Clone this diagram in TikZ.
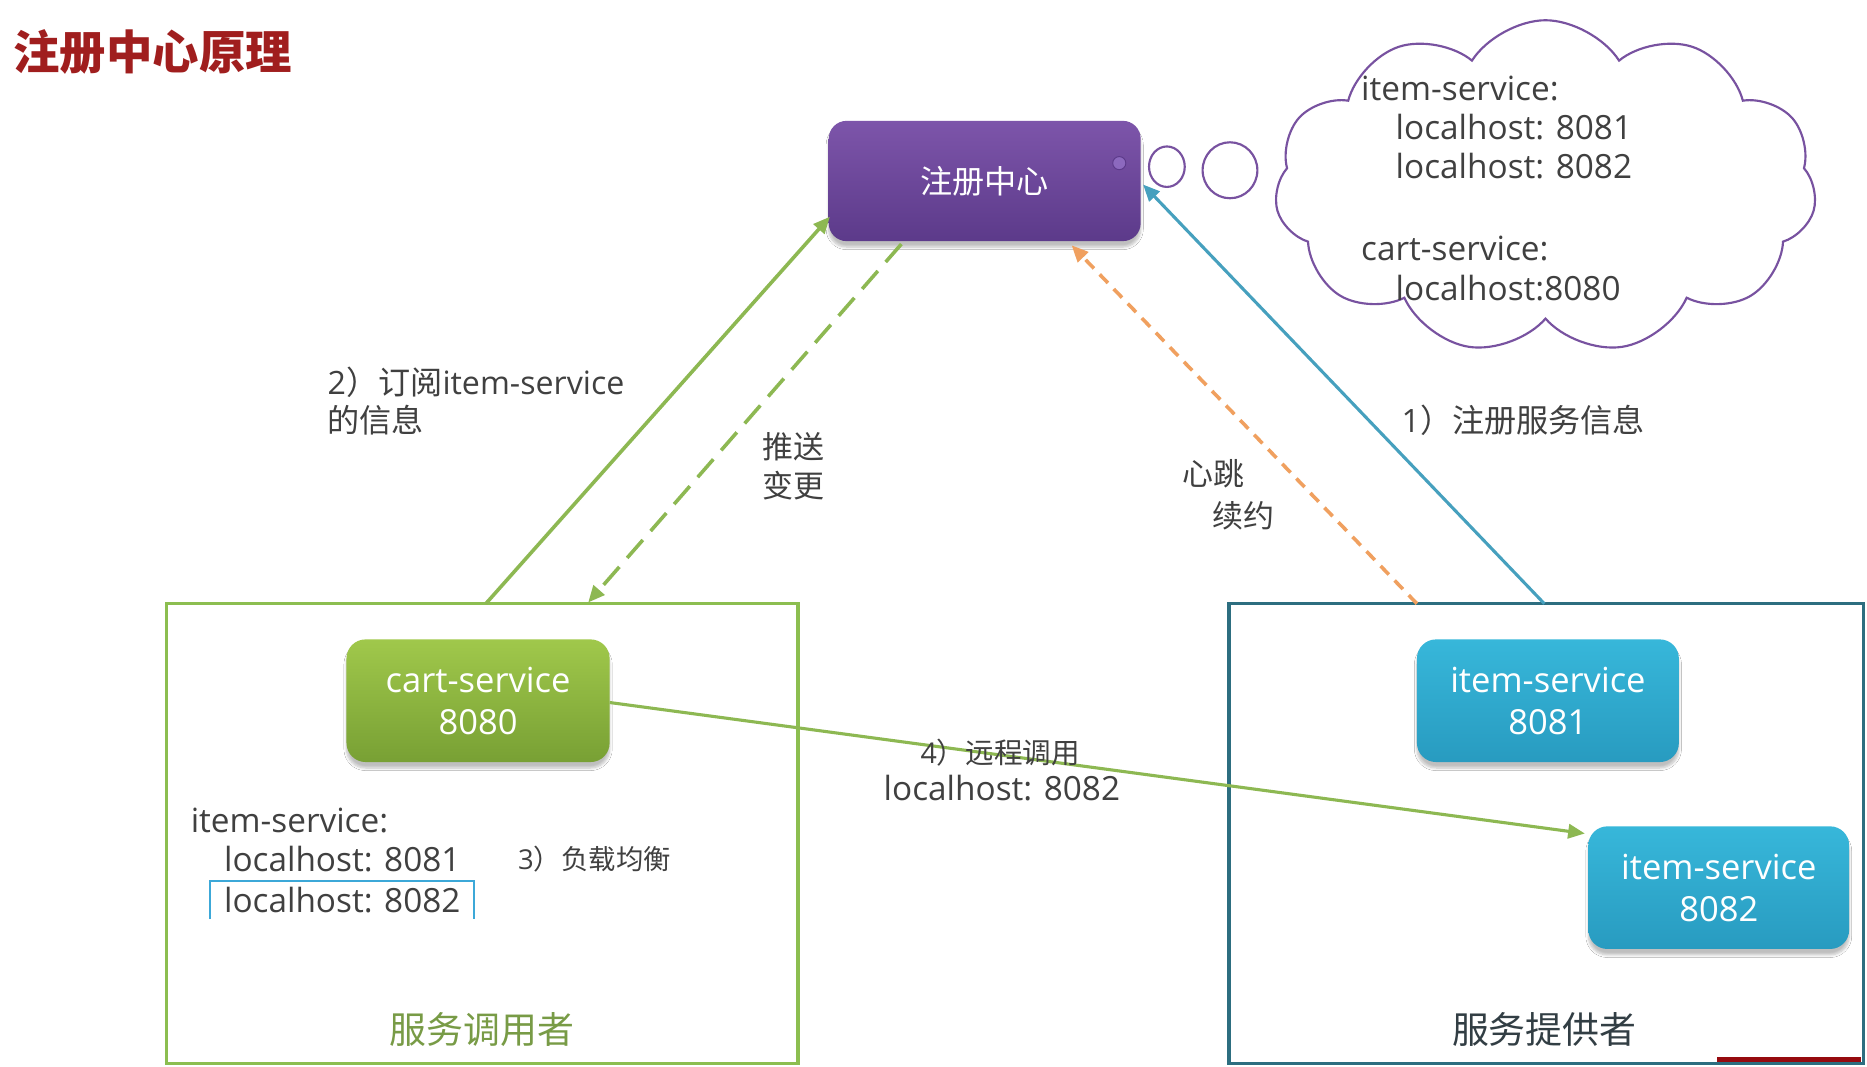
\documentclass[tikz,border=0pt]{standalone}
\usepackage{fontspec}
\setmainfont{Open Sans}
\newfontfamily\cjk{Noto Sans CJK SC}
\usetikzlibrary{arrows.meta,shapes.symbols,shapes.geometric,shadows.blur}
\definecolor{titlered}{RGB}{160,30,30}
\definecolor{labelgray}{RGB}{64,64,64}
\definecolor{gline}{RGB}{141,184,82}
\definecolor{gbox}{RGB}{140,190,80}
\definecolor{tline}{RGB}{70,160,190}
\definecolor{tbox}{RGB}{45,110,128}
\definecolor{oline}{RGB}{240,160,95}
\definecolor{ptop}{RGB}{125,85,170}
\definecolor{pbot}{RGB}{92,58,138}
\definecolor{pline}{RGB}{120,82,160}
\definecolor{pdot}{RGB}{140,105,190}
\definecolor{gtop}{RGB}{160,200,75}
\definecolor{gbot}{RGB}{120,160,52}
\definecolor{btop}{RGB}{55,183,218}
\definecolor{bbot}{RGB}{40,155,192}
\definecolor{bracket}{RGB}{60,168,216}
\definecolor{callergreen}{RGB}{120,155,70}
\definecolor{providergray}{RGB}{50,62,68}
\definecolor{barred}{RGB}{150,10,15}
\begin{document}
\begin{tikzpicture}[x=1pt,y=-1pt,
  txt/.style={inner sep=0pt, anchor=base west, text=labelgray},
  f28/.style={font=\fontsize{28}{33}\selectfont},
  f27/.style={font=\fontsize{27}{32}\selectfont},
  svc/.style={rounded corners=16pt, minimum width=221pt, minimum height=103pt,
    text=white, align=center, font=\fontsize{29}{35}\selectfont, inner sep=0pt,
    blur shadow={shadow xshift=0pt, shadow yshift=-5pt, shadow opacity=25, shadow blur steps=6}},
  greensvc/.style={svc, top color=gtop, bottom color=gbot},
  bluesvc/.style={svc, top color=btop, bottom color=bbot},
  tip/.style={-{Triangle[length=14pt,width=12pt]}},
  container/.style={draw, line width=3pt, minimum width=530pt, minimum height=386pt, inner sep=0pt}
]
\useasboundingbox[fill=white] (0,0) rectangle (1568,896);

% title
\node[txt, text=titlered, font=\cjk\bfseries\fontsize{39}{44}\selectfont] (title) at (11,58) {注册中心原理};

% containers
\node[container, draw=gbox] (lbox) at (405,700) {};
\node[container, draw=tbox, minimum width=533pt] (rbox) at (1298.5,700) {};
\fill[barred] (1442,887.5) rectangle (1563,891.5);

% registry
\node[rounded corners=15pt, minimum width=262pt, minimum height=101pt, inner sep=0pt,
  top color=ptop, bottom color=pbot, text=white, font=\cjk\fontsize{27}{32}\selectfont,
  blur shadow={shadow xshift=0pt, shadow yshift=-5pt, shadow opacity=25, shadow blur steps=6}]
  (reg) at (827,152) {注册中心};
\node[circle, fill=pdot, draw=pbot, line width=0.8pt, minimum size=11pt, inner sep=0pt] (dot) at (940,137) {};

% thought bubbles and cloud
\node[ellipse, draw=pline, line width=1.8pt, minimum width=30pt, minimum height=34pt, inner sep=0pt] (b1) at (980,140) {};
\node[ellipse, draw=pline, line width=1.8pt, minimum width=46pt, minimum height=47pt, inner sep=0pt] (b2) at (1033,143) {};
\node[cloud, draw=pline, line width=1.8pt, cloud puffs=11, cloud puff arc=115, aspect=1.6,
  minimum width=455pt, minimum height=280pt, inner sep=0pt] (cloud) at (1298,157) {};

\node[txt, f28] (c1) at (1143,84) {item-service:};
\node[txt, f28] (c2) at (1172,117) {localhost: 8081};
\node[txt, f28] (c3) at (1172,150) {localhost: 8082};
\node[txt, f28] (c4) at (1143,219) {cart-service:};
\node[txt, f28] (c5) at (1172,252) {localhost:8080};

% services
\node[greensvc] (cart) at (401.5,588.5) {cart-service\\8080};
\node[bluesvc, minimum width=220pt] (item1) at (1300,588.5) {item-service\\8081};
\node[bluesvc, minimum width=219pt] (item2) at (1443.5,745.5) {item-service\\8082};

% caller list
\node[txt, f28] (l1) at (160,699) {item-service:};
\node[txt, f28] (l2) at (188,732) {localhost: 8081};
\node[txt, f28] (l3) at (188,766) {localhost: 8082};
\draw[bracket, line width=1.6pt] (176,772) -- (176,740) -- (398,740) -- (398,772);
\node[txt, font=\fontsize{23}{28}\selectfont] (lb) at (435,730) {3{\cjk ）负载均衡}};

% container titles
\node[text=callergreen, font=\cjk\fontsize{31}{36}\selectfont, inner sep=0pt] (t1) at (405,865) {服务调用者};
\node[text=providergray, font=\cjk\fontsize{31}{36}\selectfont, inner sep=0pt] (t2) at (1297,865) {服务提供者};

% connector endpoints
\coordinate (subS) at (408,507);
\coordinate (subE) at (697,182);
\coordinate (pushS) at (757,205);
\coordinate (pushE) at (494,506);
\coordinate (hbS) at (1190,507);
\coordinate (hbE) at (900,206);
\coordinate (regS) at (1297,507);
\coordinate (regE) at (960,155);
\coordinate (callS) at (512,590);
\coordinate (callE) at (1331,700);

\draw[gline, line width=3pt, tip] (subS) -- (subE);
\draw[gline, line width=3pt, tip, dash pattern=on 20pt off 10pt] (pushS) -- (pushE);
\draw[oline, line width=3pt, tip, dash pattern=on 10pt off 7pt] (hbS) -- (hbE);
\draw[tline, line width=2.6pt, tip] (regS) -- (regE);
\draw[gline, line width=2.6pt, tip] (callS) -- (callE);

% connector labels
\node[txt, f27] (s1) at (275,331) {2{\cjk ）订阅}item-service};
\node[txt, font=\cjk\fontsize{27}{32}\selectfont] (s2) at (275,363) {的信息};
\node[txt, font=\cjk\fontsize{26}{32}\selectfont] (p1) at (640,385) {推送};
\node[txt, font=\cjk\fontsize{26}{32}\selectfont] (p2) at (640,418) {变更};
\node[txt, font=\cjk\fontsize{26}{32}\selectfont] (h1) at (993,408) {心跳};
\node[txt, font=\cjk\fontsize{26}{32}\selectfont] (h2) at (1018,443) {续约};
\node[txt, f27] (r1) at (1177,363) {1{\cjk ）注册服务信息}};
\node[txt, font=\fontsize{24}{28}\selectfont] (k1) at (773,641) {4{\cjk ）远程调用}};
\node[txt, f28] (k2) at (742,672) {localhost: 8082};
\end{tikzpicture}
\end{document}
